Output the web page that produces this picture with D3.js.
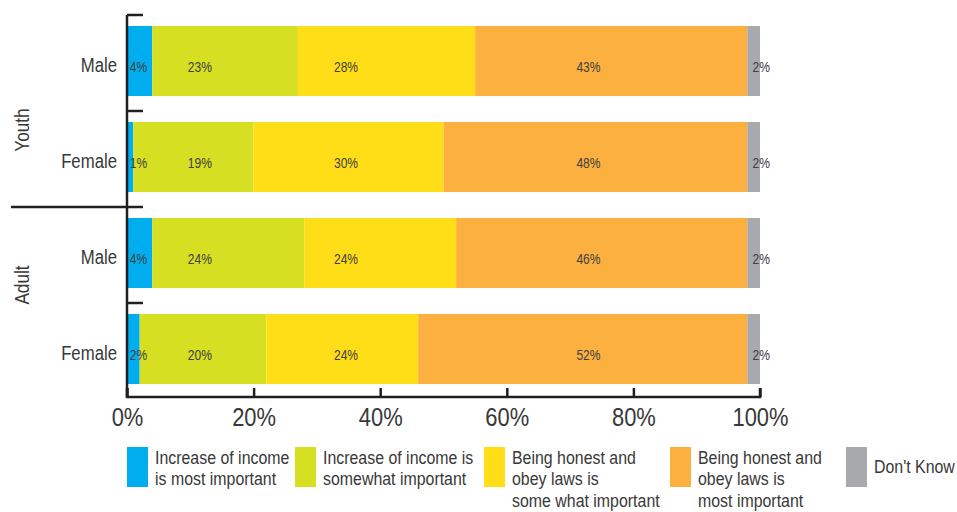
<!DOCTYPE html>
<html>
<head>
<meta charset="utf-8">
<script src="https://cdn.jsdelivr.net/npm/d3@7"></script>
<style>
  html, body { margin: 0; padding: 0; background: #fff; }
  svg { display: block; }
  text { font-family: "Liberation Sans", Arial, sans-serif; fill: #383838; }
</style>
</head>
<body>
<svg id="chart" width="957" height="512"></svg>
<script>
// Rows, top to bottom
const rowLabels = ["Male", "Female", "Male", "Female"];
const rowGroups = ["Youth", "Youth", "Adult", "Adult"];
const groupNames = ["Youth", "Adult"];

// Share of respondents (%) per answer, one value per row
const incomeMostImportant = [4, 1, 4, 2];
const incomeSomewhatImportant = [23, 19, 24, 20];
const honestSomewhatImportant = [28, 30, 24, 24];
const honestMostImportant = [43, 48, 46, 52];
const dontKnow = [2, 2, 2, 2];

const seriesNames = [
  "Increase of income is most important",
  "Increase of income is somewhat important",
  "Being honest and obey laws is some what important",
  "Being honest and obey laws is most important",
  "Don't Know"
];
const legendLines = [
  ["Increase of income", "is most important"],
  ["Increase of income is", "somewhat important"],
  ["Being honest and", "obey laws is", "some what important"],
  ["Being honest and", "obey laws is", "most important"],
  ["Don't Know"]
];
const seriesValues = [incomeMostImportant, incomeSomewhatImportant, honestSomewhatImportant, honestMostImportant, dontKnow];
const xTicks = [0, 20, 40, 60, 80, 100];

// Styling / layout
const colors = ["#00aeef", "#d7df23", "#ffdd17", "#fbb040", "#a7a9ac"];
const labelColumns = [1.8, 11.5, 34.6, 72.9, 100.2]; // value label column per series, in % units
const legendX = [127, 295, 484, 670, 846];
const ink = "#231f20";
const narrow = 0.86; // horizontal squeeze giving a condensed typeface look

const svg = d3.select("#chart");

const x = d3.scaleLinear().domain([0, 100]).range([127, 760]);
const y = d3.scaleBand().domain(d3.range(rowLabels.length)).range([15, 399]);
const barOffset = 11, barHeight = 70;

// Places a condensed text at (px, py)
function condensed(sel, px, py, extra) {
  return sel.attr("transform", (d, i) => {
    const X = typeof px === "function" ? px(d, i) : px;
    const Y = typeof py === "function" ? py(d, i) : py;
    return `translate(${X},${Y})${extra || ""} scale(${narrow},1)`;
  });
}

// Stack the series per row
const table = rowLabels.map((r, i) => {
  const o = { row: i };
  seriesNames.forEach((s, k) => { o[s] = seriesValues[k][i]; });
  return o;
});
const stacked = d3.stack().keys(seriesNames)(table);

const layers = svg.append("g").selectAll("g")
  .data(stacked)
  .join("g")
  .attr("fill", (d, k) => colors[k]);

layers.selectAll("rect")
  .data(d => d)
  .join("rect")
  .attr("x", d => x(d[0]))
  .attr("width", d => x(d[1]) - x(d[0]))
  .attr("y", d => y(d.data.row) + barOffset)
  .attr("height", barHeight);

// Value labels
stacked.forEach((layer, k) => {
  const t = svg.append("g").selectAll("text")
    .data(layer)
    .join("text")
    .attr("text-anchor", "middle")
    .style("font-size", "14px")
    .style("fill", "#404040")
    .text(d => (d[1] - d[0]) + "%");
  condensed(t, x(labelColumns[k]), d => y(d.data.row) + barOffset + barHeight / 2 + 11);
});

// Bottom axis
const xAxis = d3.axisBottom(x).tickValues(xTicks).tickFormat(d => d + "%").tickSize(-9);
const gx = svg.append("g").attr("transform", `translate(0,${y.range()[1] - 2})`).call(xAxis);
gx.select(".domain").attr("stroke", ink).attr("stroke-width", 2.5).attr("d", `M${x(0)},-9V0H${x(100)}V-9`);
gx.selectAll(".tick line").attr("stroke", ink).attr("stroke-width", 2.5);
gx.selectAll(".tick text")
  .style("font-size", "25.5px").style("font-family", null).attr("fill", "#383838")
  .attr("y", null).attr("dy", null)
  .attr("transform", `translate(0,29) scale(${narrow},1)`);

// Left axis with band boundary ticks
const yTop = y.range()[0], yBottom = y.range()[1] - 2;
svg.append("line").attr("x1", x(0)).attr("x2", x(0)).attr("y1", yTop).attr("y2", yBottom)
  .attr("stroke", ink).attr("stroke-width", 2.5);
svg.append("g").selectAll("line")
  .data(d3.range(rowLabels.length))
  .join("line")
  .attr("x1", x(0)).attr("x2", x(0) + 16)
  .attr("y1", d => y(d)).attr("y2", d => y(d))
  .attr("stroke", ink).attr("stroke-width", 2.5);

// Group separator
const sepY = y(2);
svg.append("line").attr("x1", 11).attr("x2", x(0)).attr("y1", sepY).attr("y2", sepY)
  .attr("stroke", ink).attr("stroke-width", 2.5);

// Row labels
const rl = svg.append("g").selectAll("text")
  .data(rowLabels)
  .join("text")
  .attr("text-anchor", "end")
  .style("font-size", "19.5px")
  .text(d => d);
condensed(rl, 117, (d, i) => y(i) + barOffset + barHeight / 2 + 11);

// Group labels
groupNames.forEach((g, gi) => {
  const cy = sepY + (gi === 0 ? -77 : 78);
  svg.append("text")
    .attr("transform", `translate(29,${cy}) rotate(-90) scale(${narrow},1)`)
    .attr("text-anchor", "middle")
    .style("font-size", "20px")
    .text(g);
});

// Legend
const legend = svg.append("g").selectAll("g")
  .data(seriesNames)
  .join("g")
  .attr("transform", (d, k) => `translate(${legendX[k]},447)`);
legend.append("rect").attr("width", 21).attr("height", 40).attr("fill", (d, k) => colors[k]);
legend.each(function (d, k) {
  const lines = legendLines[k];
  const y0 = lines.length === 1 ? 26 : 17;
  const t = d3.select(this).append("text")
    .attr("transform", `translate(28,${y0}) scale(${narrow},1)`)
    .style("font-size", "18.5px");
  lines.forEach((ln, j) => {
    t.append("tspan").attr("x", 0).attr("y", j * 21.5).text(ln);
  });
});
</script>
</body>
</html>
